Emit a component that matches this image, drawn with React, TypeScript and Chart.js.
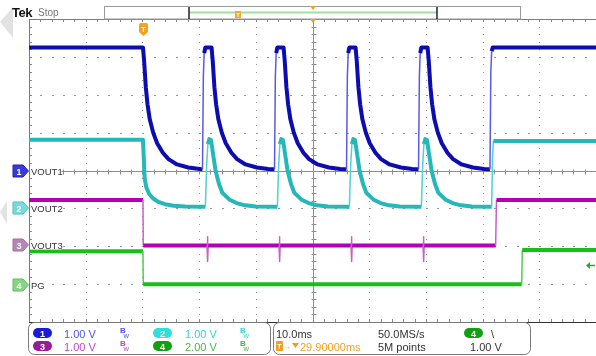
import React, { useEffect, useRef } from "react";
import { Chart, registerables } from "chart.js";

Chart.register(...registerables);

// Time axis: ms, 10 ms/div, 10 divisions. Vertical: divisions, 8 divisions.
const TIME_MIN = 0;
const TIME_MAX = 100;
const TIME_PER_DIV = 10;
const DIV_MIN = -4;
const DIV_MAX = 4;

// CH1 (VOUT1) trace, [time ms, divisions]
const ch1Trace: [number, number][] = [
  [0, 3.25], [20.1, 3.25],
  [20.3, 2.9], [20.6, 2.2], [20.9, 1.75], [21.3, 1.35], [21.9, 1.0], [22.6, 0.72], [23.6, 0.47], [24.6, 0.3], [26.1, 0.16], [28.1, 0.08], [30.1, 0.04],
  [30.6, 0.03], [30.75, 2.5], [30.9, 3.1], [31.1, 3.25], [32.2, 3.25],
  [32.4, 2.9], [32.7, 2.2], [33.0, 1.75], [33.4, 1.35], [34.0, 1.0], [34.7, 0.72], [35.7, 0.47], [36.7, 0.3], [38.2, 0.16], [40.2, 0.08], [42.2, 0.04],
  [43.3, 0.03], [43.45, 2.5], [43.6, 3.1], [43.8, 3.25], [44.9, 3.25],
  [45.1, 2.9], [45.4, 2.2], [45.7, 1.75], [46.1, 1.35], [46.7, 1.0], [47.4, 0.72], [48.4, 0.47], [49.4, 0.3], [50.9, 0.16], [52.9, 0.08], [54.9, 0.04],
  [56.0, 0.03], [56.15, 2.5], [56.3, 3.1], [56.5, 3.25], [57.6, 3.25],
  [57.8, 2.9], [58.1, 2.2], [58.4, 1.75], [58.8, 1.35], [59.4, 1.0], [60.1, 0.72], [61.1, 0.47], [62.1, 0.3], [63.6, 0.16], [65.6, 0.08], [67.6, 0.04],
  [68.7, 0.03], [68.85, 2.5], [69.0, 3.1], [69.2, 3.25], [70.3, 3.25],
  [70.5, 2.9], [70.8, 2.2], [71.1, 1.75], [71.5, 1.35], [72.1, 1.0], [72.8, 0.72], [73.8, 0.47], [74.8, 0.3], [76.3, 0.16], [78.3, 0.08], [80.3, 0.04],
  [81.3, 0.03], [81.45, 2.6], [81.6, 3.15], [81.8, 3.25], [100, 3.25],
];

// CH2 (VOUT2) trace
const ch2Trace: [number, number][] = [
  [0, 0.81], [20.1, 0.81], [20.25, 0.3], [20.4, -0.2], [20.7, -0.45], [21.2, -0.62], [21.9, -0.74], [22.8, -0.83], [24.0, -0.89], [25.5, -0.93], [27.5, -0.95], [31.1, -0.96],
  [31.35, 0.2], [31.55, 0.7], [31.8, 0.83], [32.1, 0.8], [32.4, 0.5], [32.9, 0.0], [33.5, -0.35], [34.1, -0.59], [35.4, -0.77], [36.6, -0.86], [38.1, -0.92], [40.0, -0.95], [43.8, -0.96],
  [44.05, 0.2], [44.25, 0.7], [44.5, 0.83], [44.8, 0.8], [45.1, 0.5], [45.6, 0.0], [46.2, -0.35], [46.8, -0.59], [48.1, -0.77], [49.3, -0.86], [50.8, -0.92], [52.7, -0.95], [56.5, -0.96],
  [56.75, 0.2], [56.95, 0.7], [57.2, 0.83], [57.5, 0.8], [57.8, 0.5], [58.3, 0.0], [58.9, -0.35], [59.5, -0.59], [60.8, -0.77], [62.0, -0.86], [63.5, -0.92], [65.4, -0.95], [69.2, -0.96],
  [69.45, 0.2], [69.65, 0.7], [69.9, 0.83], [70.2, 0.8], [70.5, 0.5], [71.0, 0.0], [71.6, -0.35], [72.2, -0.59], [73.5, -0.77], [74.7, -0.86], [76.2, -0.92], [78.1, -0.95], [81.6, -0.96],
  [81.75, 0.3], [81.9, 0.78], [100, 0.78],
];

// CH3 (VOUT3) trace
const ch3Trace: [number, number][] = [
  [0, -0.78], [20.1, -0.78], [20.15, -1.98],
  [31.4, -1.98], [31.45, -1.75], [31.5, -1.98], [31.55, -2.4], [31.6, -1.98],
  [44.1, -1.98], [44.15, -1.75], [44.2, -1.98], [44.25, -2.4], [44.3, -1.98],
  [56.8, -1.98], [56.85, -1.75], [56.9, -1.98], [56.95, -2.4], [57.0, -1.98],
  [69.5, -1.98], [69.55, -1.75], [69.6, -1.98], [69.65, -2.4], [69.7, -1.98],
  [82.3, -1.98], [82.45, -0.78], [100, -0.78],
];

// CH4 (PG) trace
const ch4Trace: [number, number][] = [
  [0, -2.13], [20.1, -2.13], [20.15, -3.0], [86.9, -3.0], [87.0, -2.1], [100, -2.1],
];

const TRIGGER_LEVEL_DIV = -2.5;

const seriesNames = ["VOUT1", "VOUT2", "VOUT3", "PG"];
const seriesColors = ["#0c0cb0", "#26b8b8", "#b400b4", "#16c016"];
const edgeColors = ["#5a5ae0", "#50d0d0", "#c860c8", "#50d050"];
const seriesTraces = [ch1Trace, ch2Trace, ch3Trace, ch4Trace];

const graticule = {
  id: "graticule",
  beforeDatasetsDraw(chart: any) {
    const { ctx, chartArea: a, scales } = chart;
    const xs = scales.x;
    const ys = scales.y;
    const px = (v: number) => Math.round(xs.getPixelForValue(v));
    const py = (v: number) => Math.round(ys.getPixelForValue(v));
    const xDivs = (TIME_MAX - TIME_MIN) / TIME_PER_DIV;
    const yDivs = DIV_MAX - DIV_MIN;
    ctx.save();
    ctx.fillStyle = "#969696";
    for (let i = 1; i < xDivs; i++) {
      if (i === xDivs / 2) continue;
      const x = px(TIME_MIN + i * TIME_PER_DIV);
      for (let k = 1; k < yDivs * 5; k++) ctx.fillRect(x, py(DIV_MIN + k * 0.2), 1, 1);
    }
    for (let j = 1; j < yDivs; j++) {
      if (j === yDivs / 2) continue;
      const y = py(DIV_MIN + j);
      for (let k = 1; k < xDivs * 5; k++) ctx.fillRect(px(TIME_MIN + k * TIME_PER_DIV / 5), y, 2, 1);
    }
    const cx = px((TIME_MIN + TIME_MAX) / 2) + 0.5;
    const cy = py(0) + 0.5;
    ctx.strokeStyle = "#8c8c8c";
    ctx.lineWidth = 1;
    ctx.beginPath();
    ctx.moveTo(a.left, cy);
    ctx.lineTo(a.right, cy);
    ctx.moveTo(cx, a.top);
    ctx.lineTo(cx, a.bottom);
    for (let k = 1; k < xDivs * 5; k++) {
      const x = px(TIME_MIN + k * TIME_PER_DIV / 5) + 0.5;
      ctx.moveTo(x, cy - 2);
      ctx.lineTo(x, cy + 3);
      ctx.moveTo(x, a.top);
      ctx.lineTo(x, a.top + 3);
      ctx.moveTo(x, a.bottom);
      ctx.lineTo(x, a.bottom - 3);
    }
    for (let k = 1; k < yDivs * 5; k++) {
      const y = py(DIV_MIN + k * 0.2) + 0.5;
      ctx.moveTo(cx - 2, y);
      ctx.lineTo(cx + 3, y);
      ctx.moveTo(a.left, y);
      ctx.lineTo(a.left + 3, y);
    }
    ctx.stroke();
    ctx.strokeStyle = "#7a7a7a";
    ctx.beginPath();
    ctx.moveTo(a.left + 0.5, a.top);
    ctx.lineTo(a.left + 0.5, a.bottom);
    ctx.moveTo(a.left, a.top + 0.5);
    ctx.lineTo(a.right, a.top + 0.5);
    ctx.stroke();
    ctx.strokeStyle = "#333";
    ctx.beginPath();
    ctx.moveTo(a.left, a.bottom + 0.5);
    ctx.lineTo(a.right, a.bottom + 0.5);
    ctx.stroke();
    ctx.restore();
  },
  afterDatasetsDraw(chart: any) {
    const { ctx, chartArea: a, scales } = chart;
    const y = Math.round(scales.y.getPixelForValue(TRIGGER_LEVEL_DIV)) + 0.5;
    ctx.save();
    ctx.fillStyle = "#22b022";
    ctx.strokeStyle = "#22b022";
    ctx.beginPath();
    ctx.moveTo(a.right - 10, y);
    ctx.lineTo(a.right - 6, y - 3.5);
    ctx.lineTo(a.right - 6, y + 3.5);
    ctx.closePath();
    ctx.fill();
    ctx.lineWidth = 1.5;
    ctx.beginPath();
    ctx.moveTo(a.right - 7, y);
    ctx.lineTo(a.right - 1, y);
    ctx.stroke();
    ctx.restore();
  },
};

const FONT = "'Liberation Sans', Arial, sans-serif";

function Pill({ x, y, fill, label }: any) {
  return (
    <g>
      <rect x={x} y={y - 5} width={19} height={10} rx={5} fill={fill} />
      <text x={x + 9.5} y={y + 0.5} fill="#fff" fontSize={9} fontWeight="bold" textAnchor="middle" dominantBaseline="central" fontFamily={FONT}>{label}</text>
    </g>
  );
}

function Bw({ x, y, color }: any) {
  return (
    <g fill={color} fontFamily={FONT}>
      <text x={x} y={y} fontSize={8} fontWeight="bold">B</text>
      <text x={x + 3.5} y={y + 5} fontSize={7.5}>w</text>
    </g>
  );
}

function ChMarker({ y, fill, stroke, label, name }: any) {
  return (
    <g>
      <polygon points={`13,${y - 6} 23,${y - 6} 28.5,${y} 23,${y + 6} 13,${y + 6}`} fill={fill} stroke={stroke} strokeWidth={1} />
      <text x={19} y={y + 0.5} fill="#fff" fontSize={9} fontWeight="bold" textAnchor="middle" dominantBaseline="central" fontFamily={FONT}>{label}</text>
      <rect x={30} y={y - 4.5} width={name.length * 6.3} height={9} fill="#fff" />
      <text x={31} y={y + 0.5} fill="#333" fontSize={9.5} dominantBaseline="central" fontFamily={FONT}>{name}</text>
    </g>
  );
}

export default function App() {
  const ref = useRef<HTMLCanvasElement>(null);
  useEffect(() => {
    const thin = (ctx: any) => {
      const dx = Math.abs(ctx.p1.x - ctx.p0.x);
      const dyAbs = Math.abs(ctx.p1.y - ctx.p0.y);
      const rising = ctx.p1.y < ctx.p0.y;
      if (dyAbs > 6 && dx < 0.6) return true;
      return rising && dyAbs > 8 && dyAbs > 4 * dx;
    };
    const datasets = seriesTraces.map((trace, i) => ({
      label: seriesNames[i],
      data: trace.map(([t, v]) => ({ x: t, y: v })),
      borderColor: seriesColors[i],
      borderWidth: 4,
      pointRadius: 0,
      tension: 0,
      fill: false,
      borderJoinStyle: "round" as const,
      segment: {
        borderWidth: (ctx: any) => (thin(ctx) ? 1.5 : 4),
        borderColor: (ctx: any) => (thin(ctx) ? edgeColors[i] : seriesColors[i]),
      },
    }));
    const chart = new Chart(ref.current as HTMLCanvasElement, {
      type: "line",
      data: { datasets },
      options: {
        responsive: false,
        animation: false,
        devicePixelRatio: 1,
        layout: { padding: { left: 29, top: 19, right: 0, bottom: 34 } },
        plugins: { legend: { display: false }, tooltip: { enabled: false } },
        scales: {
          x: { type: "linear", min: TIME_MIN, max: TIME_MAX, display: false },
          y: { type: "linear", min: DIV_MIN, max: DIV_MAX, display: false },
        },
      },
      plugins: [graticule],
    } as any);
    return () => chart.destroy();
  }, []);

  return (
    <div style={{ position: "fixed", left: 0, top: 0, width: 596, height: 356, background: "#fff", overflow: "hidden" }}>
      <canvas ref={ref} width={596} height={356} style={{ position: "absolute", left: 0, top: 0, width: 596, height: 356 }} />
      <svg width={596} height={356} style={{ position: "absolute", left: 0, top: 0, pointerEvents: "none" }}>
        {/* faint side arrows */}
        <polygon points="0,22 13,7 13,38" fill="#e2e2e2" />
        <polygon points="0,212 7,201 7,224" fill="#e2e2e2" />
        {/* header */}
        <text x={12} y={17} fontSize={13} fontWeight="bold" fill="#111" fontFamily={FONT} letterSpacing={-0.5}>Tek</text>
        <text x={38} y={16} fontSize={10} fill="#777" fontFamily={FONT}>Stop</text>
        <rect x={104.5} y={6.5} width={416} height={12.5} fill="#fff" stroke="#9a9a9a" />
        <line x1={189} y1={12.5} x2={437} y2={12.5} stroke="#a6dca6" strokeWidth={2} />
        <line x1={189} y1={7} x2={189} y2={19} stroke="#222" strokeWidth={1.5} />
        <line x1={437} y1={7} x2={437} y2={19} stroke="#222" strokeWidth={1.5} />
        <rect x={235} y={11} width={6} height={7} fill="#f5a623" />
        <text x={238} y={17} fontSize={6} fill="#fff" textAnchor="middle" fontFamily={FONT} fontWeight="bold">T</text>
        <polygon points="310,6 316,6 313,10" fill="#f0a020" />
        <polygon points="310,19 316,19 313,23" fill="#f0a020" />
        {/* trigger position marker */}
        <path d="M139,25 Q139,23 141,23 L146,23 Q148,23 148,25 L148,32 L143.5,36 L139,32 Z" fill="#f5a020" />
        <text x={143.5} y={29.5} fontSize={8} fontWeight="bold" fill="#fff" textAnchor="middle" dominantBaseline="central" fontFamily={FONT}>T</text>
        {/* channel ground markers */}
        <ChMarker y={171} fill="#3a3ad8" stroke="#2020b0" label="1" name="VOUT1" />
        <ChMarker y={208} fill="#78dada" stroke="#50c0c0" label="2" name="VOUT2" />
        <ChMarker y={245} fill="#b487b4" stroke="#a070a0" label="3" name="VOUT3" />
        <ChMarker y={285} fill="#86d486" stroke="#60c060" label="4" name="PG" />
        {/* bottom panels */}
        <rect x={28.5} y={322.5} width={242} height={32} rx={6} fill="#fff" stroke="#7a7a7a" />
        <rect x={273.5} y={322.5} width={257} height={32} rx={6} fill="#fff" stroke="#7a7a7a" />
        <Pill x={33} y={333} fill="#1a1ad8" label="1" />
        <text x={64} y={333.5} fontSize={11} fill="#5050f0" dominantBaseline="central" fontFamily={FONT}>1.00 V</text>
        <Bw x={120} y={333} color="#5050f0" />
        <Pill x={153} y={333} fill="#30dede" label="2" />
        <text x={185} y={333.5} fontSize={11} fill="#3cd2d2" dominantBaseline="central" fontFamily={FONT}>1.00 V</text>
        <Bw x={240} y={333} color="#3cd2d2" />
        <Pill x={33} y={346} fill="#9a1a9a" label="3" />
        <text x={64} y={346.5} fontSize={11} fill="#c048c0" dominantBaseline="central" fontFamily={FONT}>1.00 V</text>
        <Bw x={120} y={346} color="#c048c0" />
        <Pill x={153} y={346} fill="#12a012" label="4" />
        <text x={185} y={346.5} fontSize={11} fill="#44b844" dominantBaseline="central" fontFamily={FONT}>2.00 V</text>
        <Bw x={240} y={346} color="#44b844" />
        <text x={276} y={333.5} fontSize={11} fill="#333" dominantBaseline="central" fontFamily={FONT}>10.0ms</text>
        <rect x={276} y={341} width={7} height={10} rx={1} fill="#f0a020" />
        <text x={279.5} y={346.5} fontSize={7} fontWeight="bold" fill="#fff" textAnchor="middle" dominantBaseline="central" fontFamily={FONT}>T</text>
        <text x={283} y={346.5} fontSize={8} fill="#f0a020" dominantBaseline="central" fontFamily={FONT}>→</text>
        <polygon points="292,343 299,343 295.5,348" fill="#f0a020" />
        <text x={300} y={346.5} fontSize={11} fill="#f0a020" dominantBaseline="central" fontFamily={FONT}>29.90000ms</text>
        <text x={378} y={333.5} fontSize={11} fill="#333" dominantBaseline="central" fontFamily={FONT}>50.0MS/s</text>
        <text x={378} y={346.5} fontSize={11} fill="#333" dominantBaseline="central" fontFamily={FONT}>5M points</text>
        <Pill x={464} y={333} fill="#12a012" label="4" />
        <text x={491} y={333.5} fontSize={11} fill="#333" dominantBaseline="central" fontFamily={FONT}>\</text>
        <text x={470} y={346.5} fontSize={11} fill="#333" dominantBaseline="central" fontFamily={FONT}>1.00 V</text>
      </svg>
    </div>
  );
}
